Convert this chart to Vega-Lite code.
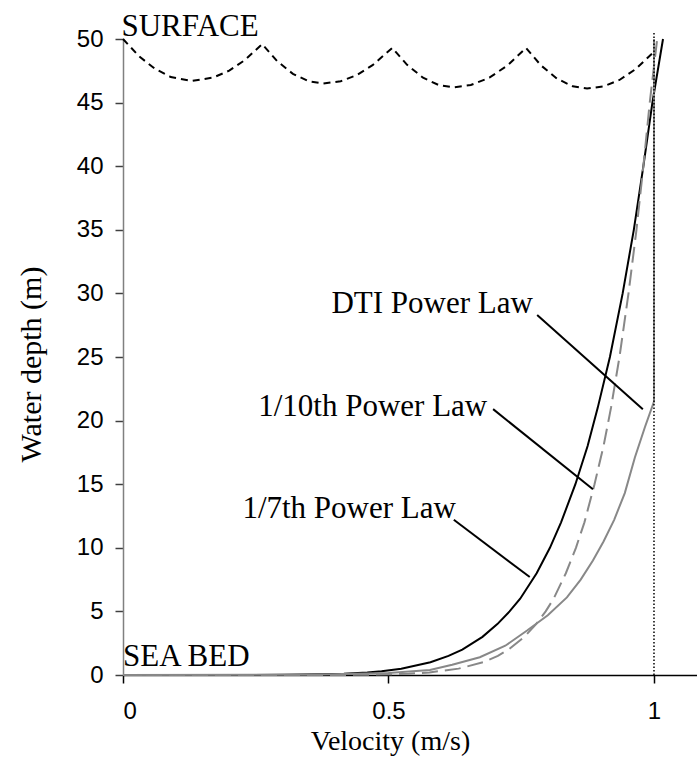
{
  "$schema": "https://vega.github.io/schema/vega-lite/v6.json",
  "width": 574,
  "height": 636,
  "autosize": {"type": "none"},
  "padding": {"left": 123, "top": 39, "right": 0, "bottom": 93},
  "background": "white",
  "config": {"view": {"stroke": null}},
  "layer": [
    {
      "data": {"values": [
        {"v": 0, "d": 0}, {"v": 0.3, "d": 0.01}, {"v": 0.377, "d": 0.05}, {"v": 0.416, "d": 0.1},
        {"v": 0.46, "d": 0.2}, {"v": 0.487, "d": 0.3}, {"v": 0.524, "d": 0.5}, {"v": 0.579, "d": 1},
        {"v": 0.613, "d": 1.5}, {"v": 0.639, "d": 2}, {"v": 0.677, "d": 3}, {"v": 0.705, "d": 4},
        {"v": 0.728, "d": 5}, {"v": 0.748, "d": 6}, {"v": 0.779, "d": 8}, {"v": 0.804, "d": 10},
        {"v": 0.825, "d": 12}, {"v": 0.852, "d": 15}, {"v": 0.875, "d": 18}, {"v": 0.894, "d": 21},
        {"v": 0.917, "d": 25}, {"v": 0.941, "d": 30}, {"v": 0.962, "d": 35}, {"v": 0.98, "d": 40},
        {"v": 0.997, "d": 45}, {"v": 1.017, "d": 50}
      ]},
      "mark": {"type": "line", "color": "#000000", "strokeWidth": 2},
      "encoding": {
        "x": {"field": "v", "type": "quantitative",
          "scale": {"domain": [0, 1.081], "nice": false, "zero": false},
          "axis": {"values": [0, 0.5, 1], "format": "~g", "grid": false,
            "domainColor": "#000000", "tickColor": "#000000", "tickSize": 8, "domainWidth": 1.5, "tickWidth": 1.5,
            "labelFont": "Liberation Sans", "labelFontSize": 24, "labelColor": "#000000", "labelPadding": 16,
            "title": "Velocity (m/s)", "titleFont": "Liberation Serif", "titleFontSize": 28, "titleFontWeight": "normal",
            "titleColor": "#000000", "titleX": 267, "titleY": 66, "titleBaseline": "middle", "titleAlign": "center"}},
        "y": {"field": "d", "type": "quantitative",
          "scale": {"domain": [0, 50], "nice": false},
          "axis": {"values": [0, 5, 10, 15, 20, 25, 30, 35, 40, 45, 50], "grid": false,
            "domainColor": "#808080", "tickColor": "#404040", "tickSize": 8, "domainWidth": 1.5, "tickWidth": 1.5,
            "labelFont": "Liberation Sans", "labelFontSize": 24, "labelColor": "#000000", "labelPadding": 12,
            "title": "Water depth (m)", "titleFont": "Liberation Serif", "titleFontSize": 30, "titleFontWeight": "normal",
            "titleColor": "#000000", "titleX": -92, "titleY": 325, "titleAngle": -90, "titleBaseline": "middle", "titleAlign": "center"}},
        "order": {"field": "d", "type": "quantitative"}
      }
    },
    {
      "data": {"values": [
        {"v": 0, "d": 0}, {"v": 0.34, "d": 0.001}, {"v": 0.427, "d": 0.01}, {"v": 0.502, "d": 0.05},
        {"v": 0.538, "d": 0.1}, {"v": 0.577, "d": 0.2}, {"v": 0.632, "d": 0.5}, {"v": 0.678, "d": 1},
        {"v": 0.706, "d": 1.5}, {"v": 0.726, "d": 2}, {"v": 0.756, "d": 3}, {"v": 0.778, "d": 4},
        {"v": 0.796, "d": 5}, {"v": 0.811, "d": 6}, {"v": 0.834, "d": 8}, {"v": 0.853, "d": 10},
        {"v": 0.869, "d": 12}, {"v": 0.888, "d": 15}, {"v": 0.905, "d": 18}, {"v": 0.919, "d": 21},
        {"v": 0.935, "d": 25}, {"v": 0.952, "d": 30}, {"v": 0.967, "d": 35}, {"v": 0.98, "d": 40},
        {"v": 0.992, "d": 45}, {"v": 1.006, "d": 50}
      ]},
      "mark": {"type": "line", "color": "#888888", "strokeWidth": 2, "strokeDash": [16, 7]},
      "encoding": {
        "x": {"field": "v", "type": "quantitative"},
        "y": {"field": "d", "type": "quantitative"},
        "order": {"field": "d", "type": "quantitative"}
      }
    },
    {
      "data": {"values": [
        {"v": 0, "d": 0}, {"v": 0.35, "d": 0.02}, {"v": 0.5, "d": 0.15}, {"v": 0.578, "d": 0.4},
        {"v": 0.62, "d": 0.8}, {"v": 0.672, "d": 1.4}, {"v": 0.72, "d": 2.3}, {"v": 0.761, "d": 3.5},
        {"v": 0.8, "d": 4.7}, {"v": 0.836, "d": 6.1}, {"v": 0.862, "d": 7.5}, {"v": 0.885, "d": 9.0},
        {"v": 0.905, "d": 10.5}, {"v": 0.925, "d": 12.2}, {"v": 0.945, "d": 14.3}, {"v": 0.964, "d": 17.1},
        {"v": 0.983, "d": 19.5}, {"v": 1.0, "d": 21.5}, {"v": 1.0, "d": 50}
      ]},
      "mark": {"type": "line", "color": "#888888", "strokeWidth": 2},
      "encoding": {
        "x": {"field": "v", "type": "quantitative"},
        "y": {"field": "d", "type": "quantitative"},
        "order": {"field": "d", "type": "quantitative"}
      }
    },
    {
      "data": {"values": [
        {"v": 0, "d": 50.0}, {"v": 0.03, "d": 48.65}, {"v": 0.06, "d": 47.66}, {"v": 0.09, "d": 47.01},
        {"v": 0.13, "d": 46.7}, {"v": 0.17, "d": 46.97}, {"v": 0.2, "d": 47.51}, {"v": 0.23, "d": 48.36},
        {"v": 0.262, "d": 49.6}, {"v": 0.29, "d": 48.27}, {"v": 0.32, "d": 47.26}, {"v": 0.35, "d": 46.67},
        {"v": 0.377, "d": 46.5}, {"v": 0.41, "d": 46.68}, {"v": 0.44, "d": 47.16}, {"v": 0.47, "d": 47.94},
        {"v": 0.507, "d": 49.3}, {"v": 0.535, "d": 47.97}, {"v": 0.565, "d": 46.96}, {"v": 0.595, "d": 46.37},
        {"v": 0.622, "d": 46.2}, {"v": 0.655, "d": 46.38}, {"v": 0.69, "d": 46.96}, {"v": 0.725, "d": 47.95},
        {"v": 0.759, "d": 49.3}, {"v": 0.787, "d": 47.93}, {"v": 0.817, "d": 46.89}, {"v": 0.847, "d": 46.28},
        {"v": 0.874, "d": 46.1}, {"v": 0.905, "d": 46.28}, {"v": 0.935, "d": 46.78}, {"v": 0.965, "d": 47.62},
        {"v": 1.0, "d": 49.0}
      ]},
      "mark": {"type": "line", "color": "#000000", "strokeWidth": 2, "strokeDash": [7, 5]},
      "encoding": {
        "x": {"field": "v", "type": "quantitative"},
        "y": {"field": "d", "type": "quantitative"},
        "order": {"field": "v", "type": "quantitative"}
      }
    },
    {
      "data": {"values": [{"v": 1, "d": 0, "d2": 50.5}]},
      "mark": {"type": "rule", "color": "#000000", "strokeWidth": 1.5, "strokeDash": [1.5, 2]},
      "encoding": {
        "x": {"field": "v", "type": "quantitative"},
        "y": {"field": "d", "type": "quantitative"},
        "y2": {"field": "d2"}
      }
    },
    {
      "data": {"values": [
        {"v": 0.78, "d": 28.3, "v2": 0.979, "d2": 20.9},
        {"v": 0.697, "d": 20.9, "v2": 0.885, "d2": 14.6},
        {"v": 0.623, "d": 12.2, "v2": 0.766, "d2": 7.7}
      ]},
      "mark": {"type": "rule", "color": "#000000", "strokeWidth": 2},
      "encoding": {
        "x": {"field": "v", "type": "quantitative"},
        "y": {"field": "d", "type": "quantitative"},
        "x2": {"field": "v2"},
        "y2": {"field": "d2"}
      }
    },
    {
      "data": {"values": [
        {"v": 0.772, "d": 28.46, "label": "DTI Power Law"},
        {"v": 0.686, "d": 20.4, "label": "1/10th Power Law"},
        {"v": 0.627, "d": 12.34, "label": "1/7th Power Law"}
      ]},
      "mark": {"type": "text", "align": "right", "baseline": "alphabetic", "font": "Liberation Serif", "fontSize": 31, "color": "#000000"},
      "encoding": {
        "x": {"field": "v", "type": "quantitative"},
        "y": {"field": "d", "type": "quantitative"},
        "text": {"field": "label"}
      }
    },
    {
      "data": {"values": [
        {"v": -0.003, "d": 50.2, "label": "SURFACE"},
        {"v": 0.0, "d": 0.7, "label": "SEA BED"}
      ]},
      "mark": {"type": "text", "align": "left", "baseline": "alphabetic", "font": "Liberation Serif", "fontSize": 31, "color": "#000000"},
      "encoding": {
        "x": {"field": "v", "type": "quantitative"},
        "y": {"field": "d", "type": "quantitative"},
        "text": {"field": "label"}
      }
    }
  ]
}
